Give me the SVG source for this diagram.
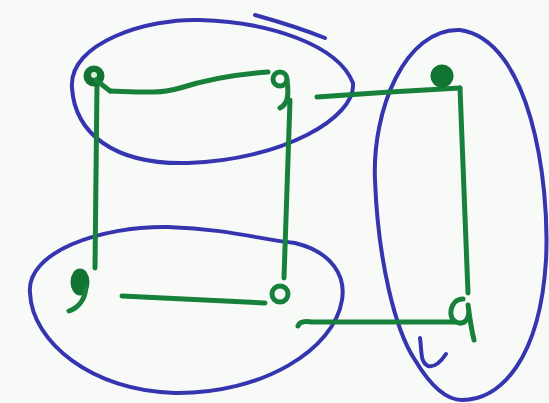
<svg xmlns="http://www.w3.org/2000/svg" width="549" height="403" viewBox="0 0 549 403">
<style>
.g{fill:none;stroke:#17803a;stroke-width:5;stroke-linecap:round;stroke-linejoin:round}
.gf{fill:#127432;stroke:#127432;stroke-width:3}
.b{fill:none;stroke:#3535b0;stroke-width:4;stroke-linecap:round;stroke-linejoin:round}
</style>
<rect width="549" height="403" fill="#f8faf8"/>
<g id="groups">
<path class="b" d="M72,88 C68,42 150,18 200,20 C270,22 338,45 353,83 C356,118 282,160 188,163 C112,165 75,132 72,88 Z"/>
<path class="b" d="M255,15 C280,22 305,30 325,38"/>
<path class="b" d="M30,293 C26,252 100,226 168,227 C230,229 262,240 295,243 C332,252 346,276 342,300 C334,350 262,394 175,393 C92,391 32,342 30,293 Z"/>
<path class="b" d="M460,30 C405,28 372,110 375,180 C378,260 395,330 415,360 C430,385 445,400 462,400 C500,400 540,360 546,260 C550,180 530,40 460,30 Z"/>
<path class="b" d="M420,338 C422,352 420,362 428,366 C436,368 442,360 446,354"/>
</g>
<g id="connectors">
<path class="g" d="M110,91 C140,92 160,94 180,88 C205,80 240,74 268,72"/>
<path class="g" d="M97,84 L95,268"/>
<path class="g" d="M290,100 L284,278"/>
<path class="g" d="M317,97 L390,92 L460,88"/>
<path class="g" d="M460,88 L468,293"/>
<path class="g" d="M122,296 L265,303"/>
<path class="g" d="M298,326 Q300,320 312,322 L455,322"/>
</g>
<g id="n1"><circle class="gf" cx="94" cy="76" r="9"/><circle cx="94" cy="75" r="3" fill="#d8f0dc"/><path class="g" d="M96,80 L110,91"/></g>
<g id="n2"><circle class="g" cx="280" cy="79" r="7" stroke-width="6"/><path class="g" stroke-width="6" d="M287,80 C289,95 288,104 280,108"/></g>
<g id="n3"><circle class="gf" cx="442" cy="76" r="10"/></g>
<g id="n4"><ellipse class="gf" cx="80" cy="282" rx="8" ry="12"/><path class="g" d="M86,287 C85,300 78,308 69,311" stroke-width="6"/></g>
<g id="n5"><circle class="g" cx="280" cy="294" r="8" stroke-width="6"/></g>
<g id="n6"><path class="g" stroke-width="7" d="M463,299 C450,299 447,318 456,322 C465,326 471,318 468,305 C470,320 472,332 474,340"/></g>
</svg>
